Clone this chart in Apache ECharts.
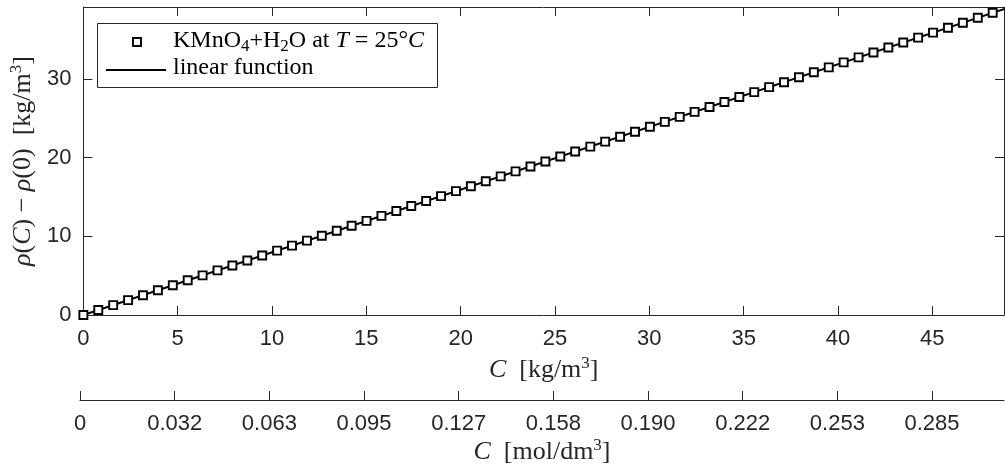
<!DOCTYPE html>
<html>
<head>
<meta charset="utf-8">
<script src="https://cdn.jsdelivr.net/npm/echarts@6/dist/echarts.min.js"></script>
<style>
html,body{margin:0;padding:0;background:#ffffff;}
#chart{width:1005px;height:467px;}
</style>
</head>
<body>
<div id="chart"></div>
<script>
// Concentration C [kg/m^3] of the measured samples
const concKg = [0, 0.79, 1.58, 2.37, 3.16, 3.95, 4.74, 5.53, 6.32, 7.11,
  7.90, 8.69, 9.48, 10.27, 11.06, 11.85, 12.64, 13.43, 14.22, 15.01,
  15.80, 16.59, 17.38, 18.17, 18.96, 19.75, 20.54, 21.33, 22.12, 22.91,
  23.70, 24.49, 25.28, 26.07, 26.87, 27.66, 28.45, 29.24, 30.03, 30.82,
  31.61, 32.40, 33.19, 33.98, 34.77, 35.56, 36.35, 37.14, 37.93, 38.72,
  39.51, 40.30, 41.09, 41.88, 42.67, 43.46, 44.25, 45.04, 45.83, 46.62,
  47.41, 48.20, 48.99];
// Density difference rho(C) - rho(0) [kg/m^3]
const deltaRho = [0, 0.63, 1.26, 1.89, 2.52, 3.15, 3.78, 4.41, 5.04, 5.67,
  6.30, 6.93, 7.56, 8.19, 8.82, 9.45, 10.08, 10.71, 11.34, 11.97,
  12.60, 13.23, 13.86, 14.49, 15.12, 15.75, 16.37, 17.00, 17.63, 18.26,
  18.89, 19.52, 20.15, 20.78, 21.41, 22.04, 22.67, 23.30, 23.93, 24.56,
  25.19, 25.82, 26.45, 27.08, 27.71, 28.34, 28.97, 29.60, 30.23, 30.86,
  31.49, 32.12, 32.75, 33.38, 34.01, 34.64, 35.27, 35.90, 36.53, 37.16,
  37.79, 38.42, 39.05];
// Linear fit end points
const fitC = [0, 49];
const fitRho = [0, 39.05];
// Secondary axis tick labels (mol/dm^3), one per 5 kg/m^3 tick
const molTickLabels = ['0', '0.032', '0.063', '0.095', '0.127', '0.158', '0.190', '0.222', '0.253', '0.285'];
const seriesNames = ['KMnO4+H2O at T = 25°C', 'linear function'];

const AX = '#262626';
const SANS = 'Liberation Sans';
const SERIF = 'Liberation Serif';
const X_MAX = 48.8;
const Y_MAX = 39.16;

const richMath = {
  n: {fontFamily: SERIF, fontSize: 26, color: AX, lineHeight: 30},
  i: {fontFamily: SERIF, fontSize: 26, fontStyle: 'italic', color: AX, lineHeight: 30},
  sup: {fontFamily: SERIF, fontSize: 17, color: AX, lineHeight: 17, verticalAlign: 'top'}
};

const chart = echarts.init(document.getElementById('chart'), null, {renderer: 'canvas'});

const scatterData = concKg.map((c, k) => [c, deltaRho[k]]);
const fitData = fitC.map((c, k) => [c, fitRho[k]]);

const commonTick = {show: true, inside: true, length: 9, lineStyle: {color: AX, width: 1}};
const commonLine = {show: true, onZero: false, lineStyle: {color: AX, width: 1}};

const option = {
  backgroundColor: '#ffffff',
  animation: false,
  grid: [
    {left: 80, width: 924, top: 7, height: 308},
    {left: 80, width: 924, top: 399, height: 1}
  ],
  xAxis: [
    {
      gridIndex: 0, type: 'value', position: 'bottom', min: 0, max: X_MAX, interval: 5,
      axisLine: commonLine, axisTick: commonTick, splitLine: {show: false},
      axisLabel: {show: true, showMaxLabel: false, margin: 13, fontFamily: SANS, fontSize: 22, color: AX},
      name: '{i|C}{n|  [kg/m}{sup|3}{n|]}', nameLocation: 'middle', nameGap: 38,
      nameTextStyle: {rich: richMath}
    },
    {
      gridIndex: 0, type: 'value', position: 'top', min: 0, max: X_MAX, interval: 5,
      axisLine: commonLine, axisTick: commonTick, splitLine: {show: false},
      axisLabel: {show: false}
    },
    {
      gridIndex: 1, type: 'value', position: 'bottom', min: 0, max: X_MAX, interval: 5,
      axisLine: commonLine, axisTick: commonTick, splitLine: {show: false},
      axisLabel: {
        show: true, showMaxLabel: false, margin: 13, fontFamily: SANS, fontSize: 22, color: AX,
        formatter: function (v) { const k = Math.round(v / 5); return molTickLabels[k] !== undefined ? molTickLabels[k] : ''; }
      },
      name: '{i|C}{n|  [mol/dm}{sup|3}{n|]}', nameLocation: 'middle', nameGap: 37,
      nameTextStyle: {rich: richMath}
    }
  ],
  yAxis: [
    {
      gridIndex: 0, type: 'value', position: 'left', min: 0, max: Y_MAX, interval: 10,
      axisLine: commonLine, axisTick: commonTick, splitLine: {show: false},
      axisLabel: {show: true, showMaxLabel: false, margin: 12, fontFamily: SANS, fontSize: 22, color: AX},
      name: '{i|ρ}{n|(}{i|C}{n|) − }{i|ρ}{n|(0)  [kg/m}{sup|3}{n|]}', nameLocation: 'middle', nameRotate: 90, nameGap: 44,
      nameTextStyle: {rich: richMath}
    },
    {
      gridIndex: 0, type: 'value', position: 'right', min: 0, max: Y_MAX, interval: 10,
      axisLine: commonLine, axisTick: commonTick, splitLine: {show: false},
      axisLabel: {show: false}
    },
    {gridIndex: 1, type: 'value', show: false, min: 0, max: 1}
  ],
  series: [
    {
      name: seriesNames[1], type: 'line', xAxisIndex: 0, yAxisIndex: 0,
      data: fitData, symbol: 'none', clip: true, z: 2,
      lineStyle: {color: '#000000', width: 2}
    },
    {
      name: seriesNames[0], type: 'scatter', xAxisIndex: 0, yAxisIndex: 0,
      data: scatterData, symbol: 'rect', symbolSize: 8, clip: true, z: 3,
      itemStyle: {color: '#ffffff', borderColor: '#000000', borderWidth: 1.9, opacity: 1}
    }
  ],
  graphic: [
    {type: 'rect', z: 100, shape: {x: 97.5, y: 23.5, width: 340, height: 64},
     style: {fill: '#ffffff', stroke: AX, lineWidth: 1}},
    {type: 'rect', z: 101, shape: {x: 133, y: 38, width: 8, height: 8},
     style: {fill: '#ffffff', stroke: '#000000', lineWidth: 1.9}},
    {type: 'line', z: 101, shape: {x1: 106, y1: 70, x2: 166, y2: 70},
     style: {stroke: '#000000', lineWidth: 2}},
    {type: 'text', z: 101, x: 173, y: 41,
     style: {
       text: '{n|KMnO}{sub|4}{n|+H}{sub|2}{n|O at }{i|T}{n| = 25°}{i|C}',
       verticalAlign: 'middle', align: 'left',
       rich: {
         n: {fontFamily: SERIF, fontSize: 24, fill: '#000', lineHeight: 28},
         i: {fontFamily: SERIF, fontSize: 24, fontStyle: 'italic', fill: '#000', lineHeight: 28},
         sub: {fontFamily: SERIF, fontSize: 17, fill: '#000', lineHeight: 17, verticalAlign: 'bottom'}
       }
     }},
    {type: 'text', z: 101, x: 173, y: 68,
     style: {text: 'linear function', verticalAlign: 'middle', align: 'left',
       fontFamily: SERIF, fontSize: 24, fill: '#000'}}
  ]
};
chart.setOption(option);
</script>
</body>
</html>
